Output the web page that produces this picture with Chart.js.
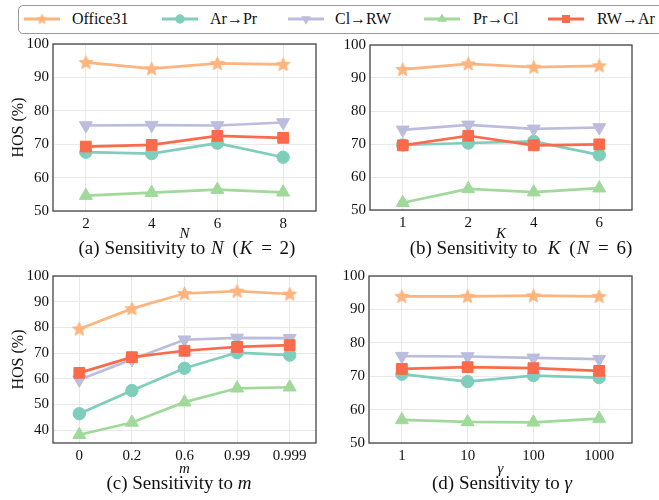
<!DOCTYPE html>
<html><head><meta charset="utf-8">
<script src="https://cdn.jsdelivr.net/npm/chart.js@4"></script>
<style>
body{margin:0;width:659px;height:500px;background:#fff;position:relative;overflow:hidden;font-family:"Liberation Serif","Times New Roman",serif;}
canvas.cv{position:absolute;}
.cap{position:absolute;font-size:19px;color:#111;white-space:nowrap;transform:translateX(-50%);line-height:20px;font-family:"Liberation Serif",serif;}
.cap i{font-style:italic;}
.cap .mt{word-spacing:3px;}
.cap .mt i{padding:0 1px;}
.legend{position:absolute;left:18px;top:5px;width:660px;height:29px;border:1px solid #9a9a9a;border-radius:5px;box-sizing:border-box;background:#fff;}
.li{position:absolute;top:10px;height:18px;line-height:18px;font-size:16px;color:#111;white-space:nowrap;font-family:"Liberation Serif",serif;}
.sw{position:absolute;top:11px;}
</style>
</head><body>
<div class="legend"></div>
<div id="legendItems"></div>
<canvas class="cv" id="ca" style="left:0;top:30px" width="330" height="212"></canvas>
<canvas class="cv" id="cb" style="left:330px;top:30px" width="329" height="212"></canvas>
<canvas class="cv" id="cc" style="left:0;top:262px" width="330" height="215"></canvas>
<canvas class="cv" id="cd" style="left:330px;top:262px" width="329" height="215"></canvas>
<div class="cap" style="left:187px;top:238px">(a) Sensitivity to <span class="mt"><i>N</i> (<i>K</i> = 2)</span></div>
<div class="cap" style="left:521px;top:238px">(b) Sensitivity to&nbsp; <span class="mt"><i>K</i> (<i>N</i> = 6)</span></div>
<div class="cap" style="left:179px;top:473px">(c) Sensitivity to <i>m</i></div>
<div class="cap" style="left:502px;top:473px">(d) Sensitivity to <i>γ</i></div>
<script>
// ---------------- DATA ----------------
const SERIES = ['Office31', 'Ar→Pr', 'Cl→RW', 'Pr→Cl', 'RW→Ar'];

// (a) Sensitivity to N (K = 2)
const catsA = ['2', '4', '6', '8'];
const a_office31 = [94.5, 92.6, 94.2, 93.9];
const a_arpr     = [67.6, 67.2, 70.3, 66.1];
const a_clrw     = [75.6, 75.7, 75.6, 76.5];
const a_prcl     = [54.6, 55.5, 56.4, 55.6];
const a_rwar     = [69.3, 69.8, 72.5, 71.9];

// (b) Sensitivity to K (N = 6)
const catsB = ['1', '2', '4', '6'];
const b_office31 = [92.6, 94.3, 93.3, 93.7];
const b_arpr     = [69.7, 70.3, 70.8, 66.7];
const b_clrw     = [74.3, 75.8, 74.6, 75.0];
const b_prcl     = [52.2, 56.4, 55.4, 56.6];
const b_rwar     = [69.6, 72.5, 69.6, 69.9];

// (c) Sensitivity to m
const catsC = ['0', '0.2', '0.6', '0.99', '0.999'];
const c_office31 = [79.4, 87.3, 93.2, 94.1, 93.0];
const c_arpr     = [46.4, 55.4, 64.1, 70.2, 69.2];
const c_clrw     = [59.6, 67.5, 75.2, 75.9, 75.8];
const c_prcl     = [38.2, 43.0, 50.9, 56.3, 56.7];
const c_rwar     = [62.3, 68.4, 70.9, 72.4, 73.1];

// (d) Sensitivity to gamma
const catsD = ['1', '10', '100', '1000'];
const d_office31 = [93.9, 93.9, 94.1, 93.9];
const d_arpr     = [70.6, 68.4, 70.2, 69.6];
const d_clrw     = [76.0, 75.9, 75.5, 75.1];
const d_prcl     = [56.9, 56.3, 56.2, 57.3];
const d_rwar     = [72.2, 72.7, 72.4, 71.6];

const yTicksMain = [50, 60, 70, 80, 90, 100];
const yTicksC    = [40, 50, 60, 70, 80, 90, 100];

// ---------------- STYLE ----------------
const COLORS = ['#fdb47d', '#7fcdbb', '#bcbddc', '#a1d99b', '#fb6a4a'];
const FONT = '"Liberation Serif", "Times New Roman", serif';

function starCanvas(color, r) {
  const s = Math.ceil(r * 2 + 2);
  const c = document.createElement('canvas');
  c.width = s; c.height = s;
  const x = c.getContext('2d');
  x.translate(s / 2, s / 2 + 0.5);
  x.beginPath();
  for (let i = 0; i < 10; i++) {
    const rad = i % 2 ? r * 0.45 : r;
    const a = -Math.PI / 2 + i * Math.PI / 5;
    x.lineTo(rad * Math.cos(a), rad * Math.sin(a));
  }
  x.closePath();
  x.fillStyle = color; x.fill();
  x.strokeStyle = color; x.lineWidth = 0.8; x.stroke();
  return c;
}
const STAR = starCanvas(COLORS[0], 7.3);
const MARKERS = [
  {style: STAR, radius: 7, rot: 0},
  {style: 'circle', radius: 6.2, rot: 0},
  {style: 'triangle', radius: 7.5, rot: 180},
  {style: 'triangle', radius: 7.5, rot: 0},
  {style: 'rect', radius: 7.6, rot: 0}
];

// legend (HTML, with canvas swatches)
const legendLineX = [24, 162, 288, 424, 548];
const legendTextX = [72, 210, 335, 473, 597];
function drawMarker(ctx, i, x, y, scale) {
  const m = MARKERS[i];
  const r = m.radius * scale;
  ctx.fillStyle = COLORS[i];
  ctx.beginPath();
  if (i === 0) { ctx.drawImage(starCanvas(COLORS[0], r), x - Math.ceil(r * 2 + 2) / 2, y - Math.ceil(r * 2 + 2) / 2); return; }
  if (m.style === 'circle') ctx.arc(x, y, r, 0, Math.PI * 2);
  else if (m.style === 'rect') { const h = r * Math.SQRT1_2; ctx.rect(x - h, y - h, 2 * h, 2 * h); }
  else {
    let a = m.rot * Math.PI / 180;
    for (let k = 0; k < 3; k++) {
      ctx.lineTo(x + Math.sin(a) * r, y - Math.cos(a) * r);
      a += 2 * Math.PI / 3;
    }
    ctx.closePath();
  }
  ctx.fill();
}
const li = document.getElementById('legendItems');
SERIES.forEach((name, i) => {
  const c = document.createElement('canvas');
  c.className = 'sw'; c.width = 36; c.height = 16;
  c.style.left = legendLineX[i] + 'px';
  c.style.top = '11px';
  c.style.position = 'absolute';
  const ctx = c.getContext('2d');
  ctx.strokeStyle = COLORS[i]; ctx.lineWidth = 3;
  ctx.beginPath(); ctx.moveTo(0, 8); ctx.lineTo(36, 8); ctx.stroke();
  drawMarker(ctx, i, 18, 8, 0.75);
  li.appendChild(c);
  const t = document.createElement('div');
  t.className = 'li'; t.textContent = name;
  t.style.left = legendTextX[i] + 'px';
  li.appendChild(t);
});

// frame plugin
const framePlugin = {
  id: 'frame',
  afterDraw(chart) {
    const {ctx, chartArea: a} = chart;
    ctx.save();
    ctx.strokeStyle = '#444';
    ctx.lineWidth = 1.3;
    ctx.strokeRect(a.left, a.top, a.right - a.left, a.bottom - a.top);
    ctx.restore();
  }
};

function makePanel(id, cats, series, yMin, yTicks, xTitle, showY, geo) {
  const datasets = series.map((vals, i) => ({
    label: SERIES[i],
    data: vals,
    borderColor: COLORS[i],
    backgroundColor: COLORS[i],
    borderWidth: 2.7,
    pointStyle: MARKERS[i].style,
    pointRadius: MARKERS[i].radius,
    pointRotation: MARKERS[i].rot,
    pointBackgroundColor: COLORS[i],
    pointBorderColor: COLORS[i],
    pointBorderWidth: 1,
    tension: 0,
    order: 4 - i
  }));
  return new Chart(document.getElementById(id), {
    type: 'line',
    data: {labels: cats, datasets},
    options: {
      responsive: false,
      animation: false,
      events: [],
      layout: {padding: {top: geo.top, right: geo.right, left: 0, bottom: 0}},
      plugins: {legend: {display: false}, tooltip: {enabled: false}},
      scales: {
        x: {
          type: 'category',
          offset: true,
          grid: {color: '#e9e9e9', lineWidth: 1, drawTicks: false, offset: false},
          border: {display: false},
          ticks: {color: '#111', font: {family: FONT, size: 15}, padding: 4, maxRotation: 0},
          title: {display: true, text: xTitle, color: '#111',
                  font: {family: FONT, size: 15, style: 'italic', lineHeight: 1}, padding: {top: 0, bottom: 0}},
          afterFit(s) { s.height = geo.xh; s.paddingLeft = 0; s.paddingRight = 0; }
        },
        y: {
          min: yMin, max: 100,
          grid: {color: '#e9e9e9', lineWidth: 1, drawTicks: false},
          border: {display: false},
          ticks: {color: '#111', font: {family: FONT, size: 15}, padding: 4, stepSize: 10},
          afterBuildTicks(s) { s.ticks = yTicks.map(v => ({value: v})); },
          title: {display: showY, text: 'HOS (%)', color: '#111',
                  font: {family: FONT, size: 16, lineHeight: 1.2}, padding: {top: 9, bottom: 0}},
          afterFit(s) { s.width = geo.yw; s.paddingTop = 0; s.paddingBottom = 0; }
        }
      }
    },
    plugins: [framePlugin]
  });
}

makePanel('ca', catsA, [a_office31, a_arpr, a_clrw, a_prcl, a_rwar], 50, yTicksMain, 'N', true,
  {top: 14, right: 14, yw: 53, xh: 31});
makePanel('cb', catsB, [b_office31, b_arpr, b_clrw, b_prcl, b_rwar], 50, yTicksMain, 'K', false,
  {top: 15, right: 27, yw: 40, xh: 32});
makePanel('cc', catsC, [c_office31, c_arpr, c_clrw, c_prcl, c_rwar], 35, yTicksC, 'm', true,
  {top: 14, right: 14, yw: 53, xh: 34});
makePanel('cd', catsD, [d_office31, d_arpr, d_clrw, d_prcl, d_rwar], 50, yTicksMain, 'γ', false,
  {top: 14, right: 27, yw: 39, xh: 34});
</script>
</body></html>
